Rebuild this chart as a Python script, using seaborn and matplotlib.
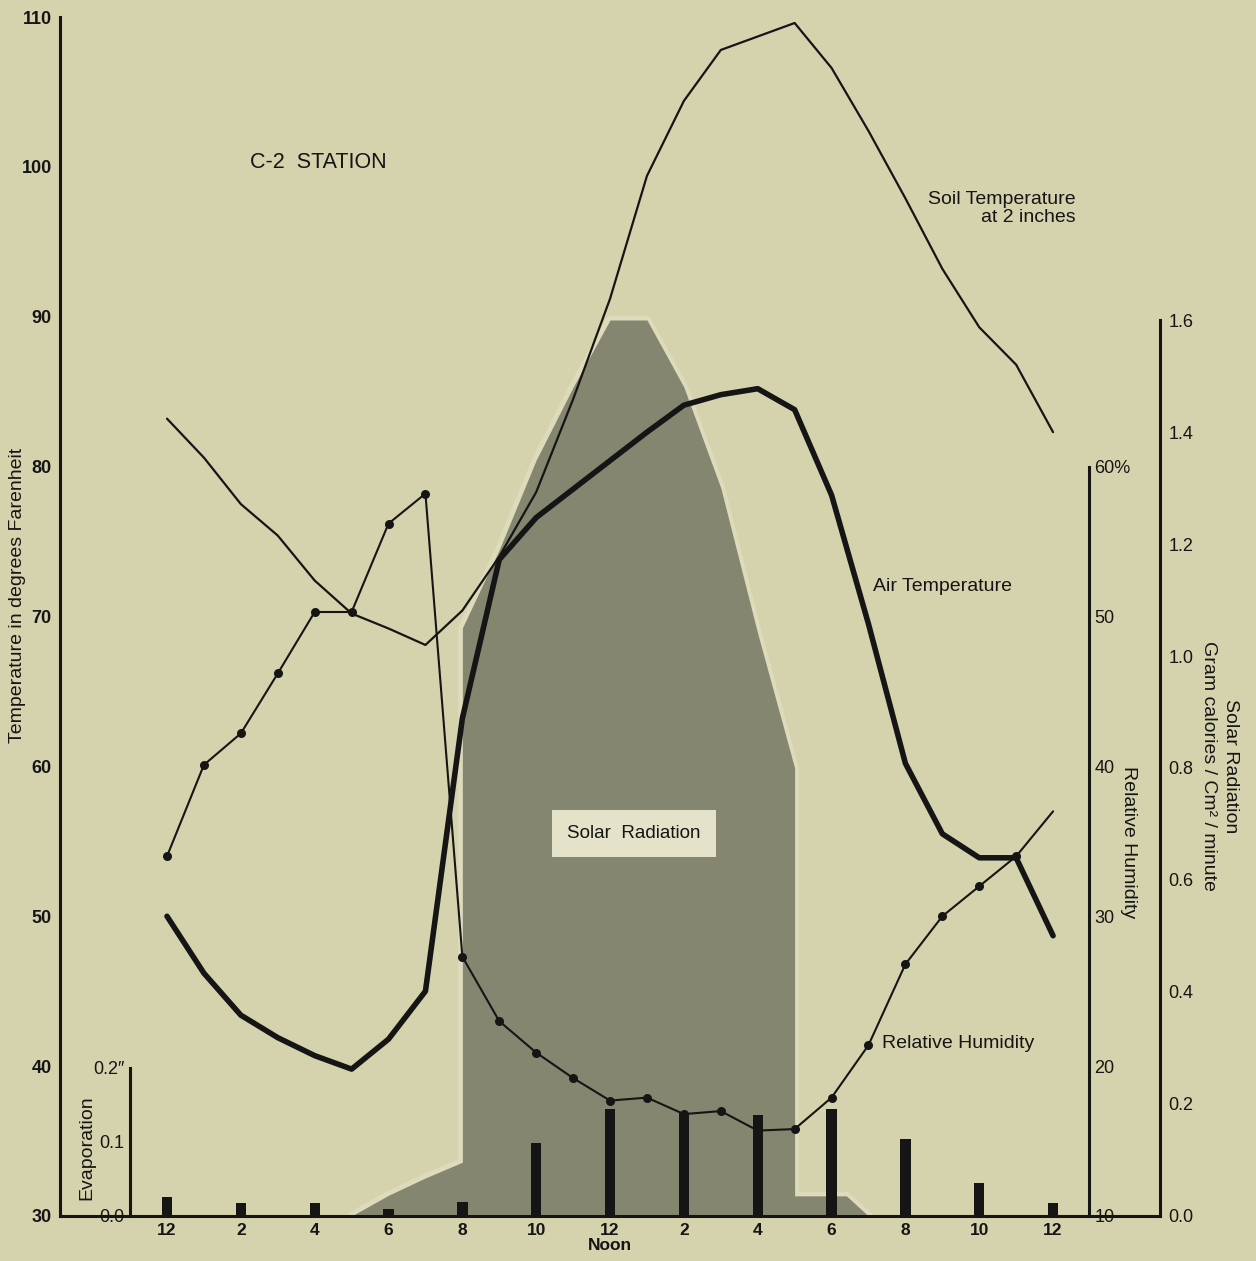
import matplotlib
matplotlib.use("Agg")
import matplotlib.pyplot as plt
import seaborn as sns

# Hourly readings, midnight (0) to midnight (24)
hours = list(range(25))
air_temp = [50.0, 46.2, 43.4, 41.9, 40.7, 39.8, 41.8, 45.0, 63.2, 73.8,
            76.6, 78.5, 80.4, 82.3, 84.1, 84.8, 85.2, 83.8, 78.1, 69.5,
            60.2, 55.5, 53.9, 53.9, 48.7]
soil_temp = [83.2, 80.6, 77.5, 75.4, 72.4, 70.2, 69.2, 68.1, 70.4, 74.0,
             78.3, 84.5, 91.2, 99.4, 104.4, 107.8, 108.7, 109.6, 106.6, 102.4,
             97.9, 93.2, 89.3, 86.8, 82.3]
rel_humidity = [34.0, 40.1, 42.2, 46.2, 50.3, 50.3, 56.2, 58.2, 27.3, 23.0,
                20.9, 19.2, 17.7, 17.9, 16.8, 17.0, 15.7, 15.8, 17.9, 21.4,
                26.8, 30.0, 32.0, 34.0, 37.0]

# Two-hourly evaporation (inches)
evap_hours = [0, 2, 4, 6, 8, 10, 12, 14, 16, 18, 20, 22, 24]
evaporation = [0.026, 0.018, 0.018, 0.009, 0.019, 0.099, 0.145, 0.139,
               0.137, 0.145, 0.104, 0.045, 0.018]

# Solar radiation outline (gram calories / cm^2 / minute)
solar_hours = [5, 6, 7, 8, 8, 9, 10, 11, 12, 13, 14, 15, 16, 17, 17, 18.4, 19]
solar_rad = [0.0, 0.037, 0.068, 0.096, 1.05, 1.19, 1.35, 1.48, 1.60, 1.60,
             1.48, 1.30, 1.04, 0.80, 0.036, 0.036, 0.0]

hour_ticks = [0, 2, 4, 6, 8, 10, 12, 14, 16, 18, 20, 22, 24]
hour_labels = ["12", "2", "4", "6", "8", "10", "12\nNoon", "2", "4", "6", "8", "10", "12"]
temp_ticks = [30, 40, 50, 60, 70, 80, 90, 100, 110]
rh_ticks = [10, 20, 30, 40, 50, 60]
rh_labels = ["10", "20", "30", "40", "50", "60%"]
solar_ticks = [0.0, 0.2, 0.4, 0.6, 0.8, 1.0, 1.2, 1.4, 1.6]
evap_ticks = [0.0, 0.1, 0.2]
evap_labels = ["0.0", "0.1", "0.2\u2033"]

BG = "#d5d3ad"
INK = "#151515"
SHADE = "#85866f"

sns.set_theme(style="white", rc={"figure.facecolor": BG, "axes.facecolor": "none",
                                 "savefig.facecolor": BG, "text.color": INK,
                                 "xtick.color": INK, "ytick.color": INK})
plt.rcParams["font.family"] = ["Liberation Sans", "DejaVu Sans"]

W, H = 1256, 1261
fig = plt.figure(figsize=(W / 100, H / 100), dpi=100)
ax = fig.add_axes([60 / W, 1 - 1216 / H, 1100 / W, 1199 / H])
ax_sol = ax.twinx()
ax_ev = ax.twinx()
ax_rh = ax.twinx()

ax_sol.set_zorder(0)
ax_ev.set_zorder(1)
ax.set_zorder(2)
ax_rh.set_zorder(3)
for a in (ax, ax_sol, ax_ev, ax_rh):
    a.patch.set_visible(False)
    for s in a.spines.values():
        s.set_visible(False)
        s.set_color(INK)
        s.set_linewidth(2.2)

# Solar radiation shaded profile with a pale rim
sns.lineplot(x=solar_hours, y=solar_rad, estimator=None, sort=False,
             color="#e6e4cb", lw=6, alpha=0.5, ax=ax_sol)
ax_sol.fill_between(solar_hours, solar_rad, 0, color=SHADE, lw=0, zorder=3)

# Evaporation bars
sns.barplot(x=evap_hours, y=evaporation, native_scale=True, width=0.14,
            color=INK, saturation=1, errorbar=None, edgecolor=INK,
            linewidth=0, ax=ax_ev)

# Temperature lines
sns.lineplot(x=hours, y=soil_temp, color=INK, lw=1.6, ax=ax)
sns.lineplot(x=hours, y=air_temp, color=INK, lw=4.0, ax=ax)

# Relative humidity with hourly dots
sns.lineplot(x=hours, y=rel_humidity, color=INK, lw=1.5, marker="o",
             markersize=6.5, markeredgewidth=0, markevery=list(range(24)), ax=ax_rh)

for a in (ax, ax_sol, ax_ev, ax_rh):
    a.set_xlabel("")
    a.set_ylabel("")

xmin, xmax = (60 - 167) / 36.92, (1160 - 167) / 36.92
ax.set_xlim(xmin, xmax)

# Temperature axis
ax.set_ylim(30, 110)
ax.set_yticks(temp_ticks)
ax.set_xticks(hour_ticks, hour_labels)
ax.spines["left"].set_visible(True)
ax.spines["bottom"].set_visible(True)
ax.tick_params(axis="both", length=0)
ax.tick_params(axis="y", pad=6, labelsize=13)
ax.tick_params(axis="x", pad=5, labelsize=12.5)
plt.setp(ax.get_yticklabels(), fontweight="bold")
plt.setp(ax.get_xticklabels(), fontweight="bold", linespacing=1.0)

# Solar radiation axis
ax_sol.set_ylim(0, 1199 / 560)
ax_sol.set_yticks(solar_ticks, [f"{v:.1f}" for v in solar_ticks])
ax_sol.spines["right"].set_visible(True)
ax_sol.spines["right"].set_bounds(0, 1.6)
ax_sol.tick_params(axis="y", length=0, pad=6, labelsize=13)

# Relative humidity axis
ax_rh.set_ylim(10, 90)
ax_rh.set_yticks(rh_ticks, rh_labels)
ax_rh.spines["right"].set_visible(True)
ax_rh.spines["right"].set_position(("axes", 1029 / 1100))
ax_rh.spines["right"].set_bounds(10, 60)
ax_rh.tick_params(axis="y", length=0, pad=4, labelsize=13)

# Evaporation axis
ax_ev.set_ylim(0, 1199 / 740)
ax_ev.yaxis.tick_left()
ax_ev.set_yticks(evap_ticks, evap_labels)
ax_ev.spines["left"].set_visible(True)
ax_ev.spines["left"].set_position(("axes", 70 / 1100))
ax_ev.spines["left"].set_bounds(0, 0.2)
ax_ev.tick_params(axis="y", length=0, pad=4, labelsize=13)

ax.set_xlim(xmin, xmax)

# Annotations
ax.text(2.25, 100.3, "C-2  STATION", fontsize=15.5, ha="left", va="center")
ax.text(24.6, 97.2, "Soil Temperature\nat 2 inches", fontsize=14, ha="right",
        va="center", multialignment="right", linespacing=1.1)
ax.text(19.12, 72.0, "Air Temperature", fontsize=14, ha="left", va="center")
ax.text(19.37, 41.5, "Relative Humidity", fontsize=14, ha="left", va="center")
ax.text(12.65, 55.5, "Solar  Radiation", fontsize=13.5, ha="center", va="center",
        bbox=dict(boxstyle="square,pad=0.8", fc="#e4e2c8", ec="none"))

fig.text(18 / W, 1 - 595 / H, "Temperature in degrees Farenheit", rotation=90,
         ha="center", va="center", fontsize=14)
fig.text(87 / W, 1 - 1148 / H, "Evaporation", rotation=90,
         ha="center", va="center", fontsize=14)
fig.text(1128 / W, 1 - 842 / H, "Relative Humidity", rotation=270,
         ha="center", va="center", fontsize=14)
fig.text(1208 / W, 1 - 766 / H, "Gram calories / Cm\u00b2 / minute", rotation=270,
         ha="center", va="center", fontsize=14)
fig.text(1230 / W, 1 - 766 / H, "Solar Radiation", rotation=270,
         ha="center", va="center", fontsize=14)

fig.savefig("out.png", dpi=100, facecolor=BG)
